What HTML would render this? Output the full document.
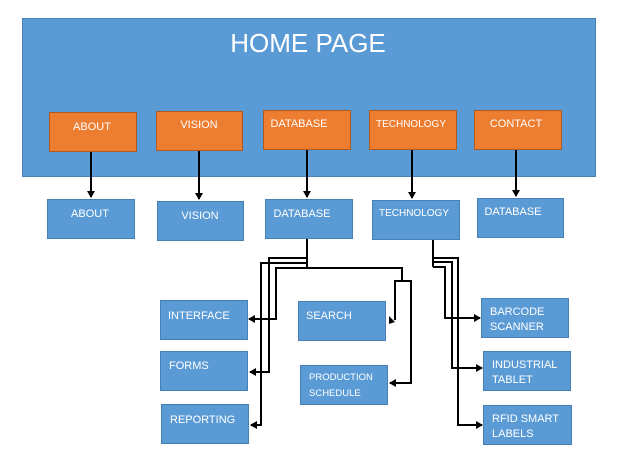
<!DOCTYPE html>
<html><head><meta charset="utf-8"><style>
html,body{margin:0;padding:0;background:#fff;}
svg{display:block;}
text{font-family:"Liberation Sans",sans-serif;fill:#fff;}
.b{fill:#5b9bd5;stroke:#4a7fb5;stroke-width:1;}
.o{fill:#ed7d31;stroke:#ae5a21;stroke-width:1;}
.l{fill:none;stroke:#000;stroke-width:2;}
.t{font-size:11px;}
</style></head><body>
<svg width="624" height="474" viewBox="0 0 624 474" xmlns="http://www.w3.org/2000/svg">
<defs><marker id="a" markerWidth="8" markerHeight="8" refX="6" refY="4" orient="auto" markerUnits="userSpaceOnUse"><path d="M0,0 L7,4 L0,8 z" fill="#000"/></marker></defs>
<rect class="b" x="22.5" y="18.5" width="573" height="158"/>
<text x="308" y="52" text-anchor="middle" font-size="26">HOME PAGE</text>

<rect class="o" x="49.5" y="112.5" width="87" height="39"/><text class="t" x="92" y="130" text-anchor="middle">ABOUT</text>
<rect class="o" x="156.5" y="111.5" width="86" height="39"/><text class="t" x="199" y="128" text-anchor="middle">VISION</text>
<rect class="o" x="263.5" y="110.5" width="87" height="39"/><text class="t" x="299" y="127" text-anchor="middle">DATABASE</text>
<rect class="o" x="369.5" y="110.5" width="87" height="39"/><text x="411" y="127" text-anchor="middle" font-size="10">TECHNOLOGY</text>
<rect class="o" x="474.5" y="110.5" width="87" height="39"/><text class="t" x="516" y="127" text-anchor="middle">CONTACT</text>

<line class="l" x1="91" y1="152" x2="91" y2="197" marker-end="url(#a)"/>
<line class="l" x1="199" y1="151" x2="199" y2="199" marker-end="url(#a)"/>
<line class="l" x1="307" y1="150" x2="307" y2="197" marker-end="url(#a)"/>
<line class="l" x1="412" y1="150" x2="412" y2="198" marker-end="url(#a)"/>
<line class="l" x1="516" y1="150" x2="516" y2="196" marker-end="url(#a)"/>

<rect class="b" x="47.5" y="199.5" width="87" height="39"/><text class="t" x="90" y="217" text-anchor="middle">ABOUT</text>
<rect class="b" x="157.5" y="201.5" width="86" height="39"/><text class="t" x="200" y="219" text-anchor="middle">VISION</text>
<rect class="b" x="265.5" y="199.5" width="87" height="39"/><text class="t" x="302" y="217" text-anchor="middle">DATABASE</text>
<rect class="b" x="372.5" y="200.5" width="87" height="39"/><text x="414" y="216" text-anchor="middle" font-size="10">TECHNOLOGY</text>
<rect class="b" x="477.5" y="198.5" width="86" height="39"/><text class="t" x="513" y="215" text-anchor="middle">DATABASE</text>

<rect class="b" x="160.5" y="300.5" width="87" height="39"/><text class="t" x="168" y="319">INTERFACE</text>
<rect class="b" x="160.5" y="351.5" width="87" height="39"/><text class="t" x="169" y="369">FORMS</text>
<rect class="b" x="161.5" y="404.5" width="87" height="39"/><text class="t" x="170" y="423">REPORTING</text>
<rect class="b" x="298.5" y="301.5" width="87" height="39"/><text class="t" x="306" y="319">SEARCH</text>
<rect class="b" x="300.5" y="365.5" width="87" height="39"/><text x="309" y="380" font-size="9.5">PRODUCTION</text><text x="309" y="396" font-size="9.5">SCHEDULE</text>
<rect class="b" x="481.5" y="298.5" width="87" height="39"/><text class="t" x="490" y="315">BARCODE</text><text class="t" x="490" y="330">SCANNER</text>
<rect class="b" x="483.5" y="351.5" width="87" height="39"/><text class="t" x="492" y="368">INDUSTRIAL</text><text class="t" x="492" y="383">TABLET</text>
<rect class="b" x="483.5" y="405.5" width="88" height="39"/><text class="t" x="492" y="422">RFID SMART</text><text class="t" x="492" y="437">LABELS</text>

<polyline class="l" points="307,239 307,268"/>
<polyline class="l" points="307,258 269,258 269,372 250,372" marker-end="url(#a)"/>
<polyline class="l" points="307,263 261,263 261,425 251,425" marker-end="url(#a)"/>
<polyline class="l" points="307,268 276,268 276,319 249,319" marker-end="url(#a)"/>
<polyline class="l" points="307,268 402,268 402,281"/>
<polyline class="l" points="395,320 395,281 411,281 411,383 390,383" marker-end="url(#a)"/>
<polyline class="l" points="433,240 433,267"/>
<polyline class="l" points="433,258 458,258 458,425 482,425" marker-end="url(#a)"/>
<polyline class="l" points="433,262 452,262 452,368 482,368" marker-end="url(#a)"/>
<polyline class="l" points="433,267 445,267 445,318 480,318" marker-end="url(#a)"/>
<path d="M389,316 L395,322 L389,324" fill="#000"/>
</svg>
</body></html>
